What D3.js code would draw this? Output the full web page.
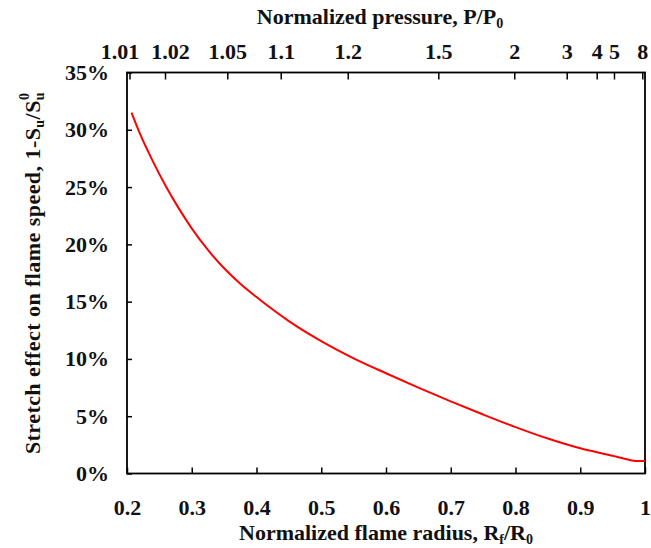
<!DOCTYPE html>
<html>
<head>
<meta charset="utf-8">
<script src="https://cdn.jsdelivr.net/npm/d3@7"></script>
</head>
<body style="margin:0;background:#fff">
<svg id="chart" width="651" height="548" style="display:block"></svg>
<script>
// Normalized flame radius R_f/R_0
const radius = [0.207, 0.22, 0.24, 0.26, 0.28, 0.30, 0.325, 0.35, 0.375, 0.40,
                0.45, 0.50, 0.55, 0.60, 0.65, 0.70, 0.75, 0.80, 0.85, 0.90,
                0.95, 0.975, 0.985, 1.0];
// Stretch effect on flame speed, 1 - S_u/S_u^0
const stretch = [0.315, 0.2966, 0.2724, 0.2507, 0.2314, 0.2140, 0.1951, 0.1791, 0.1656, 0.1540,
                 0.133, 0.1155, 0.1005, 0.0875, 0.075, 0.063, 0.0515, 0.0405, 0.0305, 0.022,
                 0.0155, 0.012, 0.011, 0.011];

// Bottom axis ticks
const radiusTicks = [0.2, 0.3, 0.4, 0.5, 0.6, 0.7, 0.8, 0.9, 1.0];
const radiusTickLabels = ["0.2", "0.3", "0.4", "0.5", "0.6", "0.7", "0.8", "0.9", "1"];
// Left axis ticks
const stretchTicks = [0, 0.05, 0.10, 0.15, 0.20, 0.25, 0.30, 0.35];
const stretchTickLabels = ["0%", "5%", "10%", "15%", "20%", "25%", "30%", "35%"];
// Top axis: normalized pressure and the flame radius where each value is reached
const pressureTickLabels = ["1.01", "1.02", "1.05", "1.1", "1.2", "1.5", "2", "3", "4", "5", "8"];
const pressureTickRadius = [0.2039, 0.2587, 0.3549, 0.4374, 0.5409, 0.6808, 0.7981, 0.8791, 0.9254, 0.9521, 0.9958];

const svg = d3.select("#chart");
const plotLeft = 127, plotRight = 645, plotTop = 72.5, plotBottom = 473.5;
const fontFamily = "\"Liberation Serif\"";
const fontSize = 22, subSize = 14;
const ink = "#111";

const x = d3.scaleLinear().domain([0.2, 1.0]).range([plotLeft, plotRight]);
const y = d3.scaleLinear().domain([0, 0.35]).range([plotBottom, plotTop]);

function setFont(sel, size) {
  return sel.style("font-family", fontFamily)
    .style("font-weight", "bold")
    .style("font-size", size + "px")
    .style("fill", ink);
}

function styleAxis(g) {
  g.attr("font-family", null).attr("font-size", null);
  g.select(".domain").remove();
  g.selectAll(".tick line").attr("stroke", "#000").attr("stroke-width", 1.5);
  setFont(g.selectAll(".tick text"), fontSize);
}

// Bottom axis
svg.append("g")
  .attr("transform", `translate(0,${plotBottom})`)
  .call(d3.axisBottom(x).tickValues(radiusTicks)
    .tickFormat((d, i) => radiusTickLabels[i])
    .tickSizeInner(-6).tickSizeOuter(0).tickPadding(26))
  .call(styleAxis);

// Left axis
svg.append("g")
  .attr("transform", `translate(${plotLeft},0)`)
  .call(d3.axisLeft(y).tickValues(stretchTicks)
    .tickFormat((d, i) => stretchTickLabels[i])
    .tickSizeInner(-5).tickSizeOuter(0).tickPadding(18))
  .call(styleAxis);

// Top axis (pressure); the two crowded labels at the left end are pushed apart
const topAxis = svg.append("g")
  .attr("transform", `translate(0,${plotTop})`)
  .call(d3.axisTop(x).tickValues(pressureTickRadius)
    .tickFormat((d, i) => pressureTickLabels[i])
    .tickSizeInner(-7).tickSizeOuter(0).tickPadding(14))
  .call(styleAxis);
topAxis.selectAll(".tick text")
  .attr("dx", (d, i) => i === 0 ? -10 : i === 1 ? 5 : 0);

// Plot frame
svg.append("rect")
  .attr("x", plotLeft).attr("y", plotTop)
  .attr("width", plotRight - plotLeft).attr("height", plotBottom - plotTop)
  .attr("fill", "none").attr("stroke", "#000").attr("stroke-width", 1.8);

// Stretch curve
const pts = radius.map((r, i) => [r, stretch[i]]);
svg.append("path")
  .datum(pts)
  .attr("fill", "none")
  .attr("stroke", "#ff0000")
  .attr("stroke-width", 2)
  .attr("d", d3.line().x(d => x(d[0])).y(d => y(d[1])).curve(d3.curveMonotoneX));

// Axis titles
const topTitle = setFont(svg.append("text"), fontSize)
  .attr("x", 380).attr("y", 24)
  .attr("text-anchor", "middle");
topTitle.append("tspan").text("Normalized pressure, P/P");
topTitle.append("tspan").style("font-size", subSize + "px").attr("dy", 4).text("0");

const bottomTitle = setFont(svg.append("text"), fontSize)
  .attr("x", 386).attr("y", 540)
  .attr("text-anchor", "middle");
bottomTitle.append("tspan").text("Normalized flame radius, R");
bottomTitle.append("tspan").style("font-size", subSize + "px").attr("dy", 4).text("f");
bottomTitle.append("tspan").attr("dy", -4).text("/R");
bottomTitle.append("tspan").style("font-size", subSize + "px").attr("dy", 4).text("0");

const yTitle = setFont(svg.append("text"), fontSize)
  .attr("transform", `translate(40,${(plotTop + plotBottom) / 2}) rotate(-90)`)
  .attr("text-anchor", "middle")
  .style("letter-spacing", "0.45px");
yTitle.append("tspan").text("Stretch effect on flame speed, 1-S");
yTitle.append("tspan").style("font-size", subSize + "px").attr("dy", 4).text("u");
yTitle.append("tspan").attr("dy", -4).text("/S");
yTitle.append("tspan").style("font-size", subSize + "px").attr("dy", 4).text("u");
yTitle.append("tspan").style("font-size", subSize + "px").attr("dx", -8).attr("dy", -15).text("0");
</script>
</body>
</html>
